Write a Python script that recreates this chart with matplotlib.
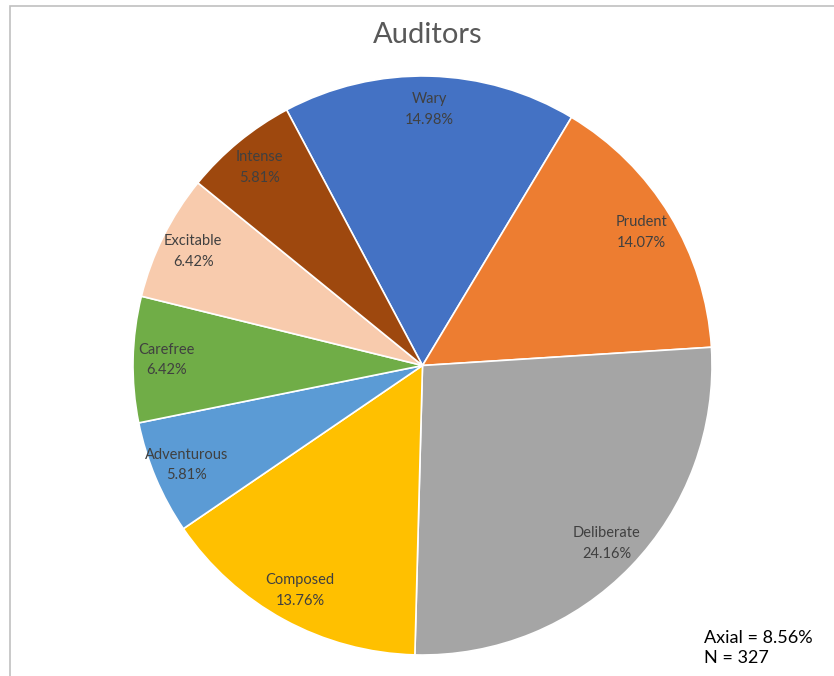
import numpy as np
import matplotlib.pyplot as plt
from matplotlib.patches import Rectangle

# Temperament shares among auditors (percent of all respondents)
categories = ["Wary", "Prudent", "Deliberate", "Composed",
              "Adventurous", "Carefree", "Excitable", "Intense"]
shares = [14.98, 14.07, 24.16, 13.76, 5.81, 6.42, 6.42, 5.81]
colors = ["#4472C4", "#ED7D31", "#A5A5A5", "#FFC000",
          "#5B9BD5", "#70AD47", "#F8CBAD", "#9E480E"]
axial_share = 8.56
n_total = 327

plt.rcParams["font.family"] = ["Lato", "DejaVu Sans"]

fig = plt.figure(figsize=(8.34, 6.76), dpi=100)

# light frame around the chart area
fig.patches.append(Rectangle((10 / 834, -0.1), 1.0, (670 / 676) + 0.1,
                             transform=fig.transFigure, fill=False,
                             edgecolor="#C0C0C0", linewidth=1.2))

ax = fig.add_axes([133 / 834, 21 / 676, 579 / 834, 579 / 676])
wedges, _ = ax.pie(shares, colors=colors, startangle=118.0, counterclock=False,
                   wedgeprops=dict(edgecolor="white", linewidth=1.2))

# labels sit near the outer edge of each slice
for w, name, val in zip(wedges, categories, shares):
    ang = np.deg2rad((w.theta1 + w.theta2) / 2)
    r = 0.885
    ax.text(r * np.cos(ang), r * np.sin(ang), f"{name}\n{val:.2f}%",
            ha="center", va="center", fontsize=10.5, color="#404040",
            linespacing=1.6)

ax.set_xlim(-1, 1)
ax.set_ylim(-1, 1)
ax.set_aspect("equal")
ax.axis("off")

fig.text(428 / 834, 1 - 35 / 676, "Auditors", ha="center", va="center",
         fontsize=21, color="#595959")
fig.text(704 / 834, 1 - 648 / 676, f"Axial = {axial_share:.2f}%\nN = {n_total}",
         ha="left", va="center", fontsize=13, color="black", linespacing=1.25)

fig.savefig("out.png", dpi=100, facecolor="white")
